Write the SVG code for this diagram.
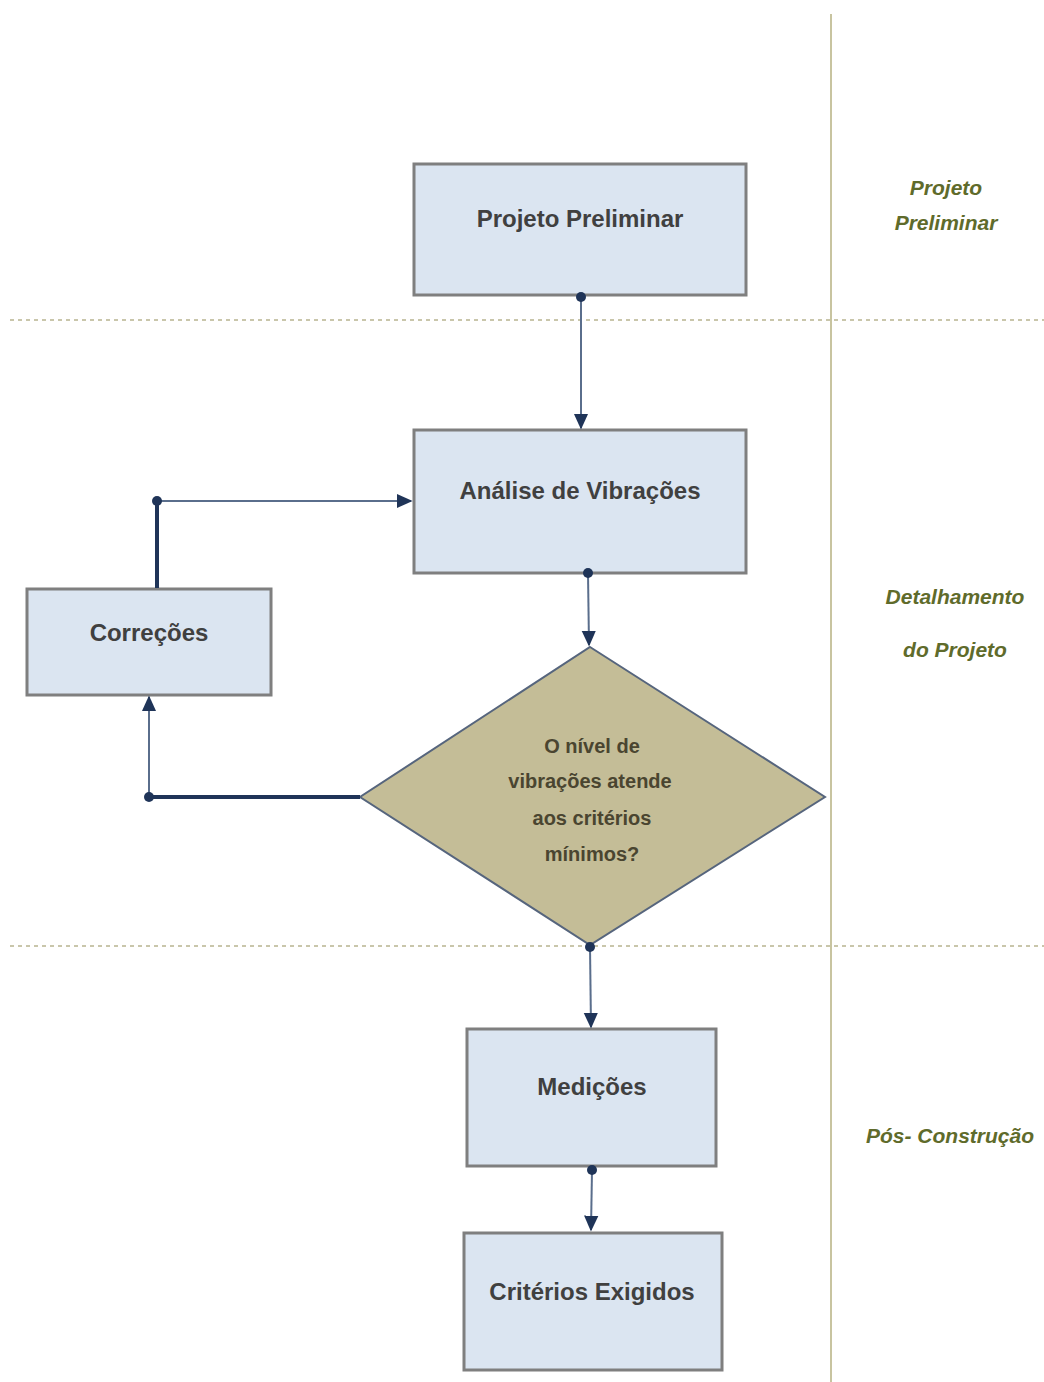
<svg xmlns="http://www.w3.org/2000/svg" width="1044" height="1382" viewBox="0 0 1044 1382">
<style>
.box{fill:#dbe5f1;stroke:#7f7f7f;stroke-width:3}
.dia{fill:#c4bd97;stroke:#56657d;stroke-width:2}
.t{font-family:"Liberation Sans",Arial,sans-serif;font-weight:bold;font-size:24px;fill:#404040;text-anchor:middle}
.td{font-family:"Liberation Sans",Arial,sans-serif;font-weight:bold;font-size:20px;fill:#4a4530;text-anchor:middle}
.lane{font-family:"Liberation Sans",Arial,sans-serif;font-weight:bold;font-style:italic;font-size:21px;fill:#5f6b2b;text-anchor:middle}
.thin{fill:none;stroke:#5a6e8c;stroke-width:2}
.thick{fill:none;stroke:#1f3458;stroke-width:4}
.dot{fill:#1f3458}
.sep{stroke:#b8b490;stroke-width:1.5;stroke-dasharray:4 4;fill:none}
</style>
<defs>
<marker id="arrow" viewBox="0 0 10 10" refX="9" refY="5" markerWidth="16" markerHeight="16" markerUnits="userSpaceOnUse" orient="auto">
<path d="M0,0.5 L10,5 L0,9.5 Z" fill="#1f3458"/>
</marker>
</defs>
<rect width="1044" height="1382" fill="#ffffff"/>
<g id="lanes">
<line x1="831" y1="14" x2="831" y2="1382" stroke="#c8c4a0" stroke-width="2"/>
<line class="sep" x1="10" y1="320" x2="1044" y2="320"/>
<line class="sep" x1="10" y1="946" x2="1044" y2="946"/>
<text class="lane" x="946" y="195">Projeto</text>
<text class="lane" x="946" y="230">Preliminar</text>
<text class="lane" x="955" y="604">Detalhamento</text>
<text class="lane" x="955" y="657">do Projeto</text>
<text class="lane" x="950" y="1143">Pós- Construção</text>
</g>
<g id="n1">
<rect class="box" x="414" y="164" width="332" height="131"/>
<text class="t" x="580" y="227">Projeto Preliminar</text>
</g>
<g id="n2">
<rect class="box" x="414" y="430" width="332" height="143"/>
<text class="t" x="580" y="499">Análise de Vibrações</text>
</g>
<g id="n3">
<rect class="box" x="27" y="589" width="244" height="106"/>
<text class="t" x="149" y="641">Correções</text>
</g>
<g id="n4">
<polygon class="dia" points="590,647 825,797 590,945 360,797"/>
<text class="td" x="592" y="753">O nível de</text>
<text class="td" x="590" y="788">vibrações atende</text>
<text class="td" x="592" y="825">aos critérios</text>
<text class="td" x="592" y="861">mínimos?</text>
</g>
<g id="n5">
<rect class="box" x="467" y="1029" width="249" height="137"/>
<text class="t" x="592" y="1095">Medições</text>
</g>
<g id="n6">
<rect class="box" x="464" y="1233" width="258" height="137"/>
<text class="t" x="592" y="1300">Critérios Exigidos</text>
</g>
<g id="connectors">
<path class="thin" d="M581,297 L581,428" marker-end="url(#arrow)"/>
<circle class="dot" cx="581" cy="297" r="5"/>
<path class="thin" d="M588,573 L589,645" marker-end="url(#arrow)"/>
<circle class="dot" cx="588" cy="573" r="5"/>
<path class="thick" d="M360,797 L149,797"/>
<path class="thin" d="M149,797 L149,697" marker-end="url(#arrow)"/>
<circle class="dot" cx="149" cy="797" r="5"/>
<path class="thick" d="M157,588 L157,501"/>
<path class="thin" d="M157,501 L411,501" marker-end="url(#arrow)"/>
<circle class="dot" cx="157" cy="501" r="5"/>
<path class="thin" d="M590,947 L591,1027" marker-end="url(#arrow)"/>
<circle class="dot" cx="590" cy="947" r="5"/>
<path class="thin" d="M592,1170 L591,1230" marker-end="url(#arrow)"/>
<circle class="dot" cx="592" cy="1170" r="5"/>
</g>
</svg>
